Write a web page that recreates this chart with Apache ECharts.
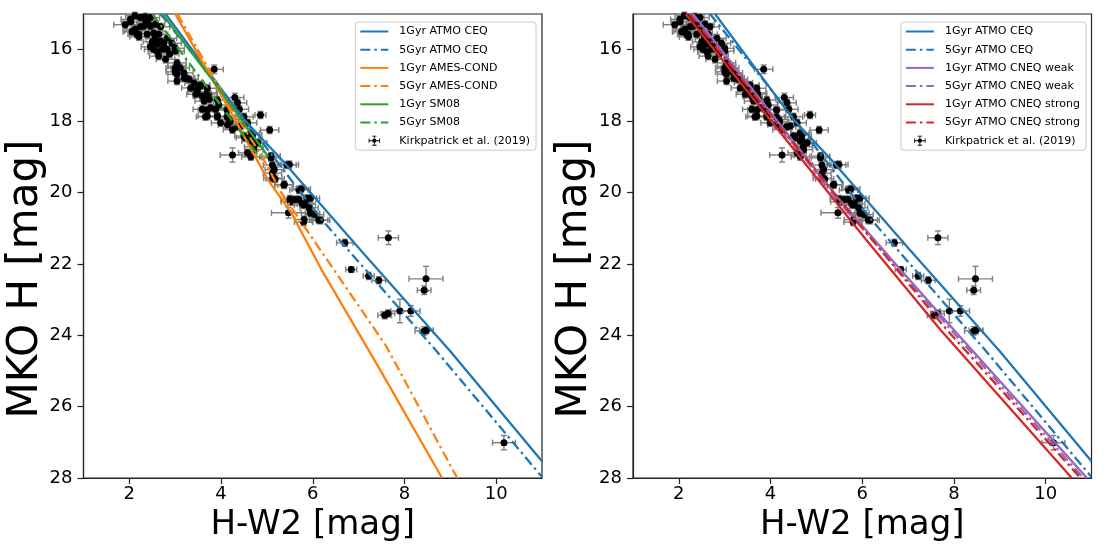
<!DOCTYPE html>
<html>
<head>
<meta charset="utf-8">
<script src="https://cdn.jsdelivr.net/npm/echarts@6/dist/echarts.min.js"></script>
<style>
  html, body { margin: 0; padding: 0; background: #fff; }
  #chart { width: 1107px; height: 555px; }
</style>
</head>
<body>
<div id="chart"></div>
<script>
// tick values
const xTicks = [2, 4, 6, 8, 10];
const yTicks = [16, 18, 20, 22, 24, 26, 28];

// model tracks, [H-W2, H]
const atmoCeq1 = [[2.79, 15], [4.5, 17.96], [5.3, 19.05], [7.06, 21.64], [9.0, 24.45], [11, 27.53]];
const atmoCeq5 = [[2.68, 15], [4.0, 17.1], [6.19, 20.75], [8.67, 24.4], [11, 27.97]];
const amesCond1 = [[3.0, 15], [4.14, 17.58], [5.02, 19.64], [5.53, 20.57], [6.19, 22.16], [7.47, 24.97], [8.82, 28]];
const amesCond5 = [[3.05, 15], [4.2, 17.6], [4.9, 19.0], [5.31, 20.0], [6.4, 22.05], [7.6, 24.3], [9.15, 28]];
const sm081 = [[2.72, 15], [3.9, 17.0], [5.03, 19.0]];
const sm085 = [[2.5, 15], [3.7, 17.05], [4.88, 19.08]];
const cneqWeak1 = [[2.31, 15], [5.5, 20.2], [6.83, 22.16], [7.99, 23.84], [10.9, 28]];
const cneqWeak5 = [[2.28, 15], [5.45, 20.2], [6.78, 22.16], [7.93, 23.84], [10.82, 28]];
const cneqStrong1 = [[2.15, 15], [4.2, 18.3], [6.08, 21.32], [7.7, 23.84], [10.57, 28]];
const cneqStrong5 = [[2.23, 15], [4.3, 18.3], [6.2, 21.3], [7.84, 23.84], [10.76, 28]];

// Kirkpatrick et al. (2019): [H-W2, H, xerr, yerr] (errors optional)
const kirk = [
  [1.91, 15.3, 0.25], [2.02, 15.15], [2.03, 15.22], [2.06, 15.5], [2.13, 15.43], [2.17, 15.57],
  [2.21, 15.64], [2.24, 15.1], [2.24, 15.36], [2.31, 15.34], [2.35, 15.08], [2.39, 15.57],
  [2.46, 15.34], [2.46, 15.1], [2.5, 15.78], [2.46, 15.92], [2.53, 15.53], [2.57, 15.29],
  [2.64, 15.57], [2.68, 15.76], [2.61, 16.06], [2.53, 15.99], [2.71, 15.99], [2.64, 16.18],
  [2.75, 15.81], [2.68, 15.36], [2.83, 15.68], [2.93, 15.82], [2.82, 15.99], [2.79, 16.27],
  [3.0, 15.96], [3.0, 16.04], [2.09, 15.48], [2.2, 15.57], [2.42, 15.29], [2.31, 15.1],
  [2.6, 15.85], [2.75, 15.9], [2.12, 15.05], [2.36, 15.22], [2.56, 15.68], [2.88, 16.12],
  [3.04, 16.37], [3.04, 16.48], [3.0, 16.51], [3.0, 16.62], [3.04, 16.69], [3.11, 16.51],
  [3.19, 16.65], [3.2, 16.8], [3.23, 16.79], [3.04, 16.88], [3.3, 16.83], [3.41, 16.93],
  [3.34, 17.07], [3.48, 17.11], [3.55, 17.02], [3.55, 16.99], [3.7, 17.08], [3.48, 17.18],
  [3.45, 17.25], [3.59, 17.3], [3.62, 17.32], [3.7, 17.21], [3.72, 17.24], [3.63, 17.44],
  [3.74, 17.39], [3.92, 17.41], [3.95, 17.55], [3.77, 17.63], [3.59, 17.67], [3.7, 17.69],
  [3.88, 17.67], [3.66, 17.88], [3.7, 17.86], [3.92, 17.86], [3.92, 17.88], [3.99, 18.05],
  [4.13, 17.69], [4.13, 17.88], [4.18, 17.96], [4.2, 18.02], [4.14, 18.1], [4.36, 17.49],
  [4.4, 17.67], [4.5, 17.88], [4.25, 18.24], [4.43, 18.14], [4.35, 18.16], [4.58, 18.05],
  [4.5, 18.42], [4.64, 18.34], [4.69, 18.38], [4.53, 18.47], [4.68, 18.52], [4.65, 18.56],
  [4.8, 18.61], [4.71, 18.72], [4.72, 18.8], [4.58, 18.89], [4.65, 19.0], [5.09, 18.98],
  [3.85, 16.55, 0.2, 0.12], [4.3, 17.34, 0.2, 0.12], [4.86, 17.83, 0.12, 0.1],
  [5.06, 18.25, 0.2, 0.1], [4.25, 18.95, 0.27, 0.2],
  [5.12, 19.23], [5.09, 19.03], [5.16, 19.36], [5.12, 19.46], [5.18, 19.62], [5.13, 19.6],
  [5.44, 19.23], [5.49, 19.22], [5.38, 19.78], [5.37, 19.79], [5.75, 19.9], [5.7, 19.93],
  [5.51, 20.26], [5.5, 20.18], [5.69, 20.2], [5.6, 20.2], [5.95, 20.16], [5.88, 20.16],
  [5.77, 20.31], [5.86, 20.32], [5.8, 20.35], [5.92, 20.43], [5.95, 20.58], [6.04, 20.62],
  [6.13, 20.77], [6.17, 20.78], [5.81, 20.76], [5.8, 20.83],
  [5.47, 20.57, 0.37, 0.15],
  [6.7, 21.41, 0.18, 0.1], [7.65, 21.27, 0.22, 0.19], [6.84, 22.16, 0.12, 0.08],
  [7.22, 22.34, 0.12, 0.1], [7.44, 22.46, 0.15, 0.1], [8.47, 22.42, 0.37, 0.35],
  [8.43, 22.74, 0.15, 0.12], [7.57, 23.44, 0.15, 0.1], [7.64, 23.39, 0.15, 0.1],
  [7.9, 23.32, 0.2, 0.33], [8.14, 23.32, 0.2, 0.15], [8.43, 23.88, 0.2, 0.12],
  [8.48, 23.86, 0.15, 0.1], [10.17, 27.01, 0.25, 0.2]
];

const FONT = '"DejaVu Sans", sans-serif';
const BLUE = '#1f77b4', ORANGE = '#ff7f0e', GREEN = '#2ca02c', RED = '#d62728', PURPLE = '#9467bd';
const DASHDOT = [10, 4, 2.5, 4];
const KIRK = 'Kirkpatrick et al. (2019)';
const errIcon = 'path://M2 9.4h16v1.2H2z M9.4 3h1.2v14H9.4z M2 7h1.2v6H2z M16.8 7h1.2v6h-1.2z M7 3h6v1.2H7z M7 15.8h6v1.2H7z M13 10a3 3 0 1 1 -6 0a3 3 0 1 1 6 0z';

const kirkFull = kirk.map(p => [p[0], p[1], p[2] != null ? p[2] : 0.2, p[3] != null ? p[3] : 0.1]);

function lineSeries(name, data, color, dashed, idx) {
  return {
    name: name, type: 'line', data: data, xAxisIndex: idx, yAxisIndex: idx,
    symbol: 'none', smooth: false, z: 5,
    lineStyle: { color: color, width: 2.3, type: dashed ? DASHDOT : 'solid' },
    itemStyle: { color: color }
  };
}

function errSeries(idx) {
  return {
    name: KIRK, type: 'custom', xAxisIndex: idx, yAxisIndex: idx, data: kirkFull, z: 2,
    itemStyle: { color: '#000' },
    renderItem: function (params, api) {
      const x = api.value(0), y = api.value(1), ex = api.value(2), ey = api.value(3);
      const l = api.coord([x - ex, y]), r = api.coord([x + ex, y]);
      const t = api.coord([x, y - ey]), b = api.coord([x, y + ey]);
      const cap = 3;
      const st = { stroke: '#808080', lineWidth: 1.4 };
      const seg = (x1, y1, x2, y2) => ({ type: 'line', shape: { x1: x1, y1: y1, x2: x2, y2: y2 }, style: st });
      return {
        type: 'group',
        children: [
          seg(l[0], l[1], r[0], r[1]),
          seg(t[0], t[1], b[0], b[1]),
          seg(l[0], l[1] - cap, l[0], l[1] + cap),
          seg(r[0], r[1] - cap, r[0], r[1] + cap),
          seg(t[0] - cap, t[1], t[0] + cap, t[1]),
          seg(b[0] - cap, b[1], b[0] + cap, b[1])
        ]
      };
    }
  };
}

function dotSeries(idx) {
  return {
    name: KIRK, type: 'scatter', xAxisIndex: idx, yAxisIndex: idx, z: 3,
    data: kirk.map(p => [p[0], p[1]]),
    symbol: 'circle', symbolSize: 7, itemStyle: { color: '#000', opacity: 1 }
  };
}

function xAxis(idx) {
  return {
    type: 'value', gridIndex: idx, min: 1, max: 11,
    name: 'H-W2 [mag]', nameLocation: 'middle', nameGap: 30,
    nameTextStyle: { fontSize: 34, fontFamily: FONT, color: '#000' },
    axisLine: { show: true, lineStyle: { color: '#222', width: 1.2 } },
    axisTick: { show: true, customValues: xTicks, length: 6, lineStyle: { color: '#222', width: 1.2 } },
    axisLabel: { customValues: xTicks, fontSize: 18, fontFamily: FONT, color: '#000', margin: 7 },
    splitLine: { show: false }
  };
}

function yAxis(idx) {
  return {
    type: 'value', gridIndex: idx, min: 15, max: 28, inverse: true,
    axisLine: { show: true, lineStyle: { color: '#222', width: 1.2 } },
    axisTick: { show: true, customValues: yTicks, length: 6, lineStyle: { color: '#222', width: 1.2 } },
    axisLabel: { customValues: yTicks, fontSize: 18, fontFamily: FONT, color: '#000', margin: 11 },
    splitLine: { show: false }
  };
}

function legend(names, right) {
  return {
    orient: 'vertical', right: right, top: 22, align: 'left',
    itemWidth: 28, itemHeight: 10, itemGap: 7.2,
    padding: [4, 6, 4, 4],
    borderColor: '#cccccc', borderWidth: 1, borderRadius: 3,
    backgroundColor: 'rgba(255,255,255,0.8)',
    selectedMode: false,
    itemStyle: { color: 'transparent', borderWidth: 0, opacity: 0 },
    textStyle: { fontSize: 11, fontFamily: FONT, color: '#000', padding: [0, 0, 0, 6] },
    data: names.map(n => n === KIRK
      ? { name: n, icon: errIcon, itemStyle: { color: '#000', opacity: 1 } }
      : n)
  };
}

const chart = echarts.init(document.getElementById('chart'), null, { renderer: 'canvas' });

chart.setOption({
  animation: false,
  backgroundColor: '#fff',
  grid: [
    { left: 83.5, top: 14, width: 458.5, height: 464, show: true, borderColor: '#222', borderWidth: 1.2, containLabel: false },
    { left: 633, top: 14, width: 458.5, height: 464, show: true, borderColor: '#222', borderWidth: 1.2, containLabel: false }
  ],
  xAxis: [xAxis(0), xAxis(1)],
  yAxis: [yAxis(0), yAxis(1)],
  legend: [
    legend(['1Gyr ATMO CEQ', '5Gyr ATMO CEQ', '1Gyr AMES-COND', '5Gyr AMES-COND', '1Gyr SM08', '5Gyr SM08', KIRK], 571),
    legend(['1Gyr ATMO CEQ', '5Gyr ATMO CEQ', '1Gyr ATMO CNEQ weak', '5Gyr ATMO CNEQ weak', '1Gyr ATMO CNEQ strong', '5Gyr ATMO CNEQ strong', KIRK], 21)
  ],
  graphic: [
    { type: 'text', x: 26, y: 279, rotation: Math.PI / 2,
      style: { text: 'MKO H [mag]', font: '42px ' + FONT, fill: '#000', textAlign: 'center', textVerticalAlign: 'middle' } },
    { type: 'text', x: 575.5, y: 279, rotation: Math.PI / 2,
      style: { text: 'MKO H [mag]', font: '42px ' + FONT, fill: '#000', textAlign: 'center', textVerticalAlign: 'middle' } }
  ],
  series: [
    errSeries(0), dotSeries(0),
    lineSeries('1Gyr ATMO CEQ', atmoCeq1, BLUE, false, 0),
    lineSeries('5Gyr ATMO CEQ', atmoCeq5, BLUE, true, 0),
    lineSeries('1Gyr AMES-COND', amesCond1, ORANGE, false, 0),
    lineSeries('5Gyr AMES-COND', amesCond5, ORANGE, true, 0),
    lineSeries('1Gyr SM08', sm081, GREEN, false, 0),
    lineSeries('5Gyr SM08', sm085, GREEN, true, 0),
    errSeries(1), dotSeries(1),
    lineSeries('1Gyr ATMO CEQ', atmoCeq1, BLUE, false, 1),
    lineSeries('5Gyr ATMO CEQ', atmoCeq5, BLUE, true, 1),
    lineSeries('1Gyr ATMO CNEQ weak', cneqWeak1, PURPLE, false, 1),
    lineSeries('5Gyr ATMO CNEQ weak', cneqWeak5, PURPLE, true, 1),
    lineSeries('1Gyr ATMO CNEQ strong', cneqStrong1, RED, false, 1),
    lineSeries('5Gyr ATMO CNEQ strong', cneqStrong5, RED, true, 1)
  ]
});
</script>
</body>
</html>
